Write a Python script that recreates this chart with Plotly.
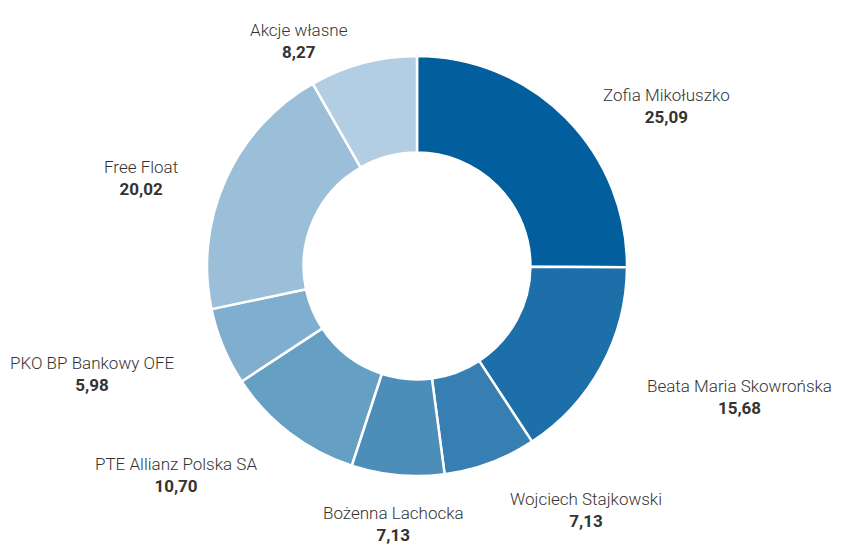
import math
import plotly.graph_objects as go

labels = ["Zofia Mikołuszko", "Beata Maria Skowrońska", "Wojciech Stajkowski",
          "Bożenna Lachocka", "PTE Allianz Polska SA", "PKO BP Bankowy OFE",
          "Free Float", "Akcje własne"]
values = [25.09, 15.68, 7.13, 7.13, 10.70, 5.98, 20.02, 8.27]
value_text = ["25,09", "15,68", "7,13", "7,13", "10,70", "5,98", "20,02", "8,27"]
colors = ["#025e9c", "#1d6fa9", "#377fb2", "#4c8dba", "#669fc4", "#80aecf", "#9bbfd9", "#b3cee2"]

W, H = 841, 546
OFF = 8  # page body margin
cx, cy, R = 417 - OFF, 266 - OFF, 210
HOLE = 0.54
LAB_A, LAB_B, LAB_C = 260, 246, 13  # label placement (px)

fig = go.Figure(go.Pie(
    labels=labels, values=values, sort=False, direction="clockwise", rotation=0,
    hole=HOLE, textinfo="none", hoverinfo="label+value",
    marker=dict(colors=colors, line=dict(color="white", width=2.5)),
    domain=dict(x=[(cx - R) / W, (cx + R) / W], y=[1 - (cy + R) / H, 1 - (cy - R) / H]),
    showlegend=False,
))

total = sum(values)
cum = 0.0
annotations = []
for lab, v, vt in zip(labels, values, value_text):
    mid = (cum + v / 2) / total * 2 * math.pi
    cum += v
    s, c = math.sin(mid), math.cos(mid)
    px = cx + LAB_A * s
    py = cy - LAB_B * c + LAB_C
    if s > 0.2:
        xa = "left"
    elif s < -0.2:
        xa = "right"
    else:
        xa = "center"
    annotations.append(dict(
        x=px / W, y=1 - py / H, xref="paper", yref="paper",
        xanchor=xa, yanchor="middle", align="center", showarrow=False,
        text=f"<span style='font-weight:300'>{lab}</span><br><b>{vt}</b>",
        font=dict(family="Roboto", size=17, color="#333333"),
    ))

fig.update_layout(
    width=W, height=H, margin=dict(l=0, r=0, t=0, b=0),
    paper_bgcolor="white", plot_bgcolor="white",
    annotations=annotations,
    font=dict(family="Roboto"),
)
fig.write_html("out.html")
